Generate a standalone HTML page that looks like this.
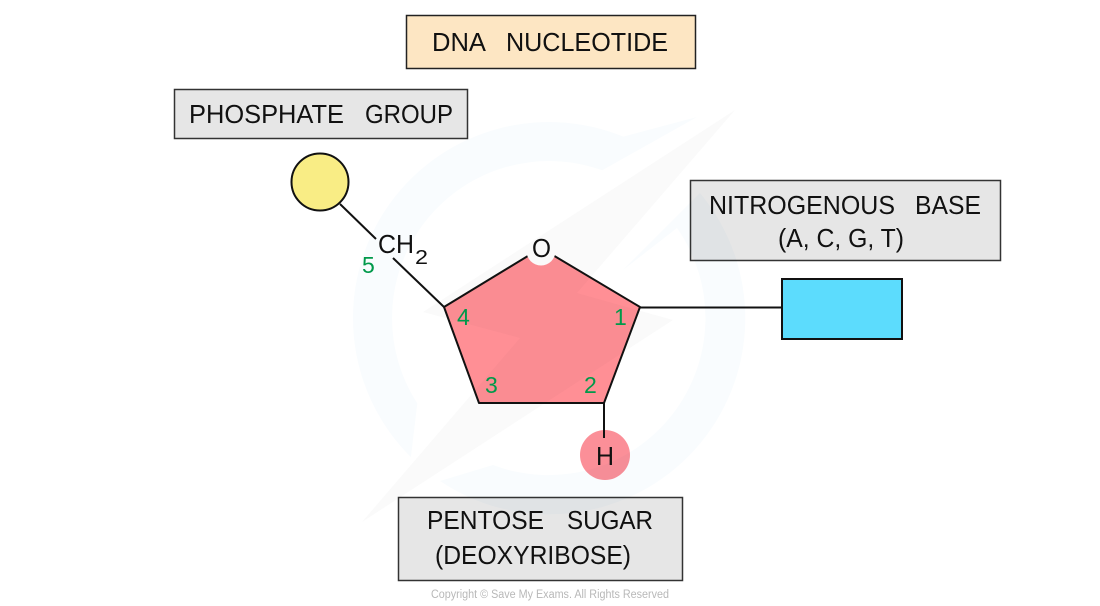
<!DOCTYPE html>
<html><head><meta charset="utf-8"><style>
html,body{margin:0;padding:0;background:#fff}
svg{display:block}
text{font-family:"Liberation Sans",sans-serif;fill:#111}
.g{fill:#00994a;font-size:23px}
.wm{mix-blend-mode:multiply}
</style></head><body>
<svg width="1100" height="606" viewBox="0 0 1100 606" xmlns="http://www.w3.org/2000/svg">
<!-- boxes -->
<rect x="406.500" y="15.500" width="289" height="53" fill="#fde6c3" stroke="#222" stroke-width="1.500"/>
<rect x="174.500" y="89.500" width="293" height="49" fill="#e6e6e6" stroke="#333" stroke-width="1.500"/>
<rect x="690.500" y="180.500" width="310" height="80" fill="#e6e6e6" stroke="#333" stroke-width="1.500"/>
<rect x="398.500" y="497.500" width="284" height="83" fill="#e6e6e6" stroke="#333" stroke-width="1.500"/>
<rect x="782" y="279" width="120" height="60" fill="#5cdcfd" stroke="#111" stroke-width="2"/>
<!-- connectors -->
<g stroke="#111" stroke-width="2" fill="none">
<path d="M340 204L376 239"/>
<path d="M393 258L444 307"/>
<path d="M640 307.500H782"/>
</g>
<!-- pentagon -->
<path d="M444 307L541 248L640 307L604 403H479Z" fill="#ff8f95" stroke="#111" stroke-width="2" stroke-linejoin="round"/>
<circle cx="541" cy="251" r="14.500" fill="#fff"/>
<circle cx="320" cy="182" r="28.500" fill="#f9ed85" stroke="#111" stroke-width="2"/>
<circle cx="605" cy="455" r="25" fill="#fb8f98"/>
<path d="M604 403V438" stroke="#111" stroke-width="2"/>
<!-- watermark -->
<g class="wm">
<path d="M410.900 457.100A196 196 0 0 1 623.200 136.600L697 117L602.200 170.300A157 157 0 0 0 417.300 403.400Z" fill="#f9fcfe"/>
<path d="M623 270L700 193A196 196 0 0 1 440 481L493 465A157 157 0 0 0 677 228Z" fill="#f9fcfe"/>
<path d="M735 110L423 312L520 338L362 522L673 320L577 293Z" fill="#fafafa"/>
</g>
<!-- labels -->
<g>
<text x="432" y="51" font-size="26" textLength="54" lengthAdjust="spacingAndGlyphs">DNA</text>
<text x="506" y="51" font-size="26" textLength="162" lengthAdjust="spacingAndGlyphs">NUCLEOTIDE</text>
<text x="189" y="123" font-size="26" textLength="155" lengthAdjust="spacingAndGlyphs">PHOSPHATE</text>
<text x="365" y="123" font-size="26" textLength="88" lengthAdjust="spacingAndGlyphs">GROUP</text>
<text x="709" y="214" font-size="26" textLength="186" lengthAdjust="spacingAndGlyphs">NITROGENOUS</text>
<text x="915" y="214" font-size="26" textLength="66" lengthAdjust="spacingAndGlyphs">BASE</text>
<text x="778" y="247" font-size="26" textLength="126" lengthAdjust="spacingAndGlyphs">(A, C, G, T)</text>
<text x="427" y="529" font-size="26" textLength="117" lengthAdjust="spacingAndGlyphs">PENTOSE</text>
<text x="567" y="529" font-size="26" textLength="86" lengthAdjust="spacingAndGlyphs">SUGAR</text>
<text x="435" y="564" font-size="26" textLength="196" lengthAdjust="spacingAndGlyphs">(DEOXYRIBOSE)</text>
<text x="378" y="253" font-size="26" textLength="36" lengthAdjust="spacingAndGlyphs">CH</text>
<text x="415" y="264" font-size="20" textLength="13" lengthAdjust="spacingAndGlyphs">2</text>
<text x="532" y="257" font-size="26" textLength="19" lengthAdjust="spacingAndGlyphs">O</text>
<text x="596" y="465" font-size="26" textLength="18" lengthAdjust="spacingAndGlyphs">H</text>
</g>
<text class="g" x="362" y="273">5</text>
<text class="g" x="457" y="325">4</text>
<text class="g" x="485" y="393">3</text>
<text class="g" x="584" y="393">2</text>
<text class="g" x="614" y="325">1</text>
<text x="431" y="598" font-size="11.500" style="fill:#b8b8b8" textLength="238" lengthAdjust="spacingAndGlyphs">Copyright © Save My Exams. All Rights Reserved</text>
</svg>
</body></html>
